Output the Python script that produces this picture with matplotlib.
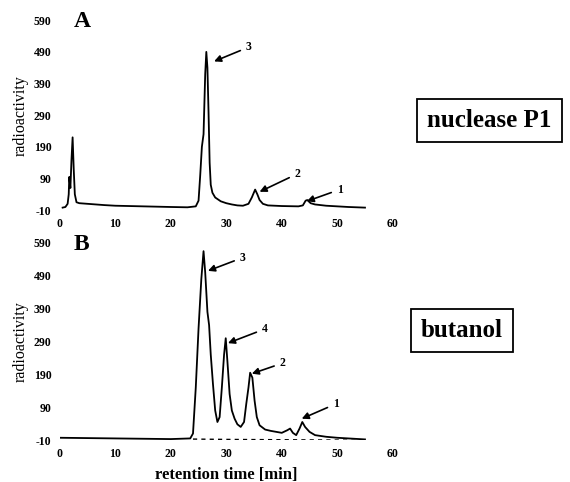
import numpy as np
import matplotlib
matplotlib.use("Agg")
import matplotlib.pyplot as plt

plt.rcParams['font.family'] = ['Liberation Serif', 'DejaVu Serif']
plt.rcParams['axes.unicode_minus'] = False

# panel A - nuclease P1
t_a = [0.5, 1.0, 1.4, 1.6, 1.7, 1.9, 2.1, 2.3, 2.5, 2.7, 3.0, 3.5, 5, 8, 10, 15, 20, 23,
       24.5, 25.0, 25.3, 25.6, 25.9, 26.2, 26.4, 26.6, 26.8, 27.0, 27.2, 27.5, 28, 29, 30,
       31, 32, 33, 34, 34.6, 35.2, 35.6, 36, 36.6, 37.5, 40, 43, 43.8, 44.3, 44.6, 45.2,
       46, 48, 50, 52, 55]
y_a = [-2, 0, 10, 40, 95, 60, 150, 220, 120, 40, 15, 12, 10, 6, 4, 2, 0, -1,
       2, 20, 100, 190, 230, 420, 490, 440, 300, 140, 70, 45, 30, 18, 12,
       8, 5, 4, 10, 30, 55, 40, 22, 10, 5, 3, 2, 5, 20, 22, 12,
       8, 4, 2, 0, -2]

# panel B - butanol
t_b = [0, 5, 10, 15, 20, 23.5, 24.0, 24.5, 25.0, 25.5, 25.9, 26.2, 26.6, 26.9, 27.2,
       27.6, 28.0, 28.4, 28.8, 29.2, 29.6, 29.9, 30.2, 30.6, 31.0, 31.5, 32.0, 32.6,
       33.2, 33.6, 34.0, 34.3, 34.7, 35.1, 35.5, 36, 37, 38, 40, 41, 41.5, 42, 42.6,
       43.2, 43.7, 44.2, 45, 46, 48, 50, 53, 55]
y_b = [-3, -4, -5, -6, -7, -5, 10, 150, 330, 480, 565, 500, 380, 340, 250,
       160, 80, 45, 60, 150, 250, 300, 230, 130, 80, 55, 38, 30,
       45, 100, 150, 195, 180, 110, 60, 35, 22, 18, 12, 20, 25, 12, 5,
       25, 45, 30, 15, 5, 0, -3, -6, -8]
t_b2 = [24, 30, 40, 50, 56]
y_b2 = [-7, -8, -9, -10, -12]

yticks = [-10, 90, 190, 290, 390, 490, 590]
xticks = [0, 10, 20, 30, 40, 50, 60]

arrows_a = [('3', (27.8, 460), (33.5, 505)),
            ('2', (36.0, 48), (42.3, 105)),
            ('1', (44.5, 18), (49.9, 55))]
arrows_b = [('3', (26.7, 505), (32.4, 545)),
            ('4', (30.3, 285), (36.4, 328)),
            ('2', (34.6, 192), (39.6, 224)),
            ('1', (43.6, 55), (49.2, 100))]

fig = plt.figure(figsize=(5.70, 4.82), dpi=100)
ax_a = fig.add_axes([0.105, 0.564, 0.584, 0.394])
ax_b = fig.add_axes([0.105, 0.087, 0.584, 0.409])

ax_a.plot(t_a, y_a, color='black', lw=1.3)
ax_b.plot(t_b, y_b, color='black', lw=1.3)
ax_b.plot(t_b2, y_b2, color='black', lw=1.0, ls=(0, (3, 3)))

for ax, arrows, letter in [(ax_a, arrows_a, 'A'), (ax_b, arrows_b, 'B')]:
    ax.set_xlim(0, 60)
    ax.set_ylim(-10, 590)
    ax.set_xticks(xticks)
    ax.set_yticks(yticks)
    ax.tick_params(length=0, labelsize=8.5, pad=6)
    for lab in ax.get_xticklabels() + ax.get_yticklabels():
        lab.set_fontweight('bold')
    for s in ax.spines.values():
        s.set_visible(False)
    ax.set_ylabel('radioactivity', fontsize=11.5, labelpad=4)
    ax.text(2.5, 585, letter, fontsize=17, fontweight='bold', va='center', ha='left')
    for lab, tip, txt in arrows:
        ax.annotate(lab, xy=tip, xytext=txt, fontsize=8.5, fontweight='bold',
                    ha='left', va='center',
                    arrowprops=dict(arrowstyle='-|>', color='black', lw=1.2,
                                    mutation_scale=10, shrinkA=2, shrinkB=0))

ax_b.set_xlabel('retention time [min]', fontsize=12, fontweight='bold', labelpad=5)

fig.text(0.859, 0.751, 'nuclease P1', fontsize=18, fontweight='bold', ha='center', va='center',
         bbox=dict(boxstyle='square,pad=0.4', fc='white', ec='black', lw=1.3))
fig.text(0.81, 0.315, 'butanol', fontsize=18, fontweight='bold', ha='center', va='center',
         bbox=dict(boxstyle='square,pad=0.4', fc='white', ec='black', lw=1.3))

fig.savefig('out.png', dpi=100)
